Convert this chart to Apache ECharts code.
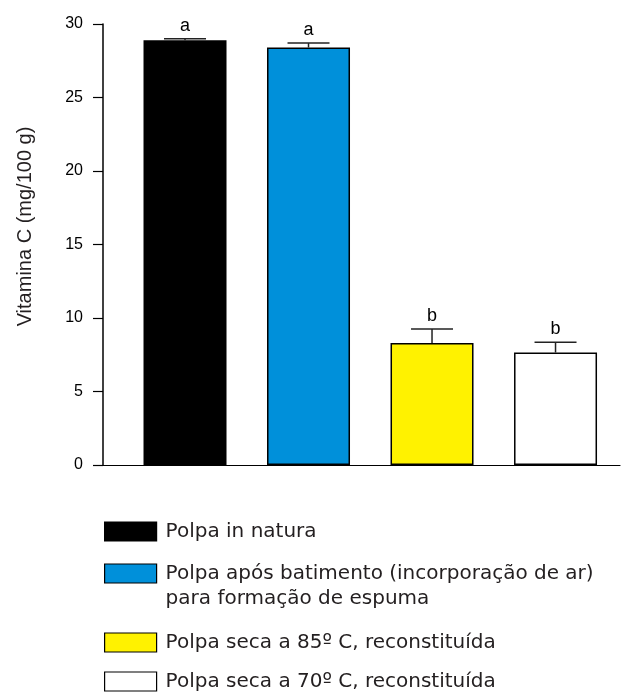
<!DOCTYPE html>
<html>
<head>
<meta charset="utf-8">
<script src="https://cdn.jsdelivr.net/npm/echarts@6/dist/echarts.min.js"></script>
<style>
  html, body { margin: 0; padding: 0; background: #fff; }
  #chart { width: 621px; height: 696px; }
</style>
</head>
<body>
<div id="chart"></div>
<script>
// Vitamin C content of the pulp by treatment
const categories = [
  'Polpa in natura',
  'Polpa após batimento (incorporação de ar)\npara formação de espuma',
  'Polpa seca a 85º C, reconstituída',
  'Polpa seca a 70º C, reconstituída'
];
const means = [28.9, 28.4, 8.3, 7.65];
const errors = [0.1, 0.3, 0.95, 0.7];
const letters = ['a', 'a', 'b', 'b'];
const colors = ['#000000', '#0090da', '#fff200', '#ffffff'];
const yTicks = { min: 0, max: 30, interval: 5 };

const chart = echarts.init(document.getElementById('chart'));

const barSeries = categories.map((name, i) => ({
  name: name,
  type: 'bar',
  barWidth: 83,
  barGap: '-100%',
  data: [[i + 1, means[i]]],
  itemStyle: { color: colors[i], borderColor: '#000', borderWidth: 1.5 },
  z: 2
}));

// mean + error whisker with cap, and the significance letter above it
const errorSeries = {
  type: 'custom',
  data: means.map((m, i) => [i + 1, m, m + errors[i]]),
  z: 3,
  renderItem: function (params, api) {
    const x = api.value(0);
    const low = api.coord([x, api.value(1)]);
    const high = api.coord([x, api.value(2)]);
    const half = 21;
    const stroke = { stroke: '#222', lineWidth: 1.5 };
    return {
      type: 'group',
      children: [
        { type: 'line', shape: { x1: low[0], y1: low[1], x2: high[0], y2: high[1] }, style: stroke },
        { type: 'line', shape: { x1: high[0] - half, y1: high[1], x2: high[0] + half, y2: high[1] }, style: stroke },
        {
          type: 'text',
          style: {
            text: letters[params.dataIndex],
            x: high[0], y: high[1] - 13,
            align: 'center', verticalAlign: 'middle',
            font: '18px "Liberation Sans", Arial, sans-serif',
            fill: '#000'
          }
        }
      ]
    };
  }
};

// one legend block per treatment, stacked under the plot;
// a two-line label gets a blank first line so its first line sits beside the swatch
const legendTops = [519, 536, 630, 669];
const legends = categories.map((name, i) => ({
  data: [name],
  orient: 'vertical',
  left: 104,
  top: legendTops[i],
  padding: 0,
  itemWidth: 52,
  itemHeight: 19,
  icon: 'rect',
  selectedMode: false,
  formatter: function (n) { return n.indexOf('\n') >= 0 ? ' \n' + n : n; },
  itemStyle: { borderColor: '#000', borderWidth: 1.2 },
  textStyle: {
    fontFamily: '"DejaVu Sans", Verdana, sans-serif',
    fontSize: 20,
    color: '#231f20',
    lineHeight: 25,
    padding: [0, 0, 0, 4]
  }
}));

chart.setOption({
  animation: false,
  backgroundColor: '#fff',
  grid: { left: 103, right: 1, top: 24, bottom: 231 },
  legend: legends,
  xAxis: {
    type: 'value',
    min: 0.336,
    max: 4.522,
    axisLine: { show: true, onZero: true, lineStyle: { color: '#000', width: 1.2 } },
    axisTick: { show: false },
    axisLabel: { show: false },
    splitLine: { show: false }
  },
  yAxis: {
    type: 'value',
    min: yTicks.min,
    max: yTicks.max,
    interval: yTicks.interval,
    name: 'Vitamina C (mg/100 g)',
    nameLocation: 'middle',
    nameGap: 68,
    nameRotate: 90,
    nameTextStyle: {
      fontFamily: '"Liberation Sans", Arial, sans-serif',
      fontSize: 20,
      color: '#231f20',
      padding: [0, 0, 0, 36]
    },
    axisLine: { show: true, lineStyle: { color: '#000', width: 1.5 } },
    axisTick: { show: true, length: 10, lineStyle: { color: '#000', width: 1.2 } },
    axisLabel: {
      margin: 20,
      fontFamily: '"Liberation Sans", Arial, sans-serif',
      fontSize: 16,
      color: '#000'
    },
    splitLine: { show: false }
  },
  series: barSeries.concat([errorSeries])
});
</script>
</body>
</html>
